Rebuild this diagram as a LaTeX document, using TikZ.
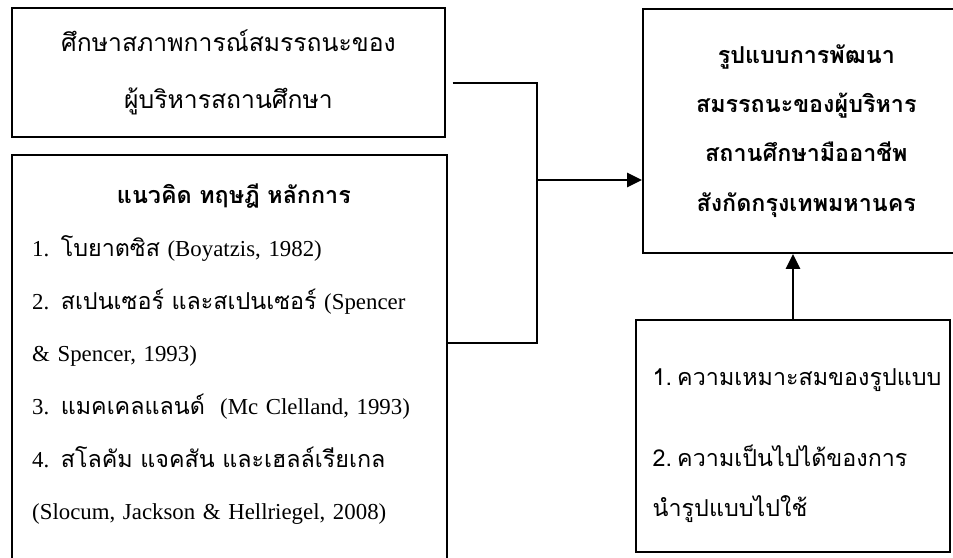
\documentclass[tikz,border=0pt]{standalone}
\usepackage{fontspec}
\setmainfont{Liberation Serif}
\newfontfamily\thaifont[Script=Thai,Scale=1.02]{Loma}
\usepackage{tikz}
\usetikzlibrary{arrows.meta, positioning}
\newcommand{\thtxt}[1]{{\thaifont #1}}
\tikzset{
    box/.style={rectangle, draw, line width=1.6pt, text centered, align=center},
    link/.style={line width=2.3pt},
    flow/.style={-{Triangle[length=0.45cm, width=0.42cm]}, line width=2.3pt}
}

\begin{document}
\begin{tikzpicture}[
    font=\fontsize{19.5}{45}\selectfont,
    listtext/.style={anchor=north west, text width=12.1cm, inner sep=0pt},
    headbox/.style={box, font=\fontsize{19.5}{42}\selectfont\thaifont\bfseries},
    itembox/.style={box, align=left, text width=8.42cm, font=\fontsize{19.5}{43}\selectfont\thaifont}
]
    \clip (0,0) rectangle (28.59,16.71);
    % Boxes
    \node[box, minimum width=12.99cm, minimum height=3.87cm, font=\fontsize{20.7}{49}\selectfont\thaifont] (study) at (6.855,14.535) {ศึกษาสภาพการณ์สมรรถนะของ\\ ผู้บริหารสถานศึกษา};
    \node[box, minimum width=13.05cm, minimum height=12.6cm] (theory) at (6.885,5.76) {};
    \node[listtext] (theorytext) at (0.96,11.2) {\centering{\bfseries\thaifont แนวคิด ทฤษฎี หลักการ}\par
        \raggedright 1. \thtxt{โบยาตซิส} (Boyatzis, 1982)\\
        2. \thtxt{สเปนเซอร์ และสเปนเซอร์} (Spencer\\
        \& Spencer, 1993)\\
        3. \thtxt{แมคเคลแลนด์}\ \ (Mc Clelland, 1993)\\
        4. \thtxt{สโลคัม แจคสัน และเฮลล์เรียเกล}\\
        (Slocum, Jackson \& Hellriegel, 2008)\par};
    \node[headbox, minimum width=9.8cm, minimum height=7.32cm] (model) at (24.19,12.78) {รูปแบบการพัฒนา\\ สมรรถนะของผู้บริหาร\\ สถานศึกษามืออาชีพ\\ สังกัดกรุงเทพมหานคร};
    \node[itembox, minimum width=9.42cm, minimum height=6.96cm] (evaluate) at (23.79,3.63) {\rule{0pt}{1.1cm}\mbox{1.\hspace{0.22em}ความเหมาะสมของรูปแบบ}\\[0.9cm] 2.\hspace{0.22em}ความเป็นไปได้ของการ\\ นำรูปแบบไปใช้};

    % Connectors
    \coordinate (jtop) at (16.11,14.22);
    \coordinate (jbot) at (16.11,6.42);
    \coordinate (jmid) at (16.11,11.31);
    \draw[link, shorten <=0.2cm] (study.east |- jtop) -- (jtop) -- (jbot) -- (theory.east |- jbot);
    \draw[flow] (jmid) -- (model.west |- jmid);
    \draw[flow] (evaluate.north) -- (evaluate.north |- model.south);
\end{tikzpicture}
\end{document}
